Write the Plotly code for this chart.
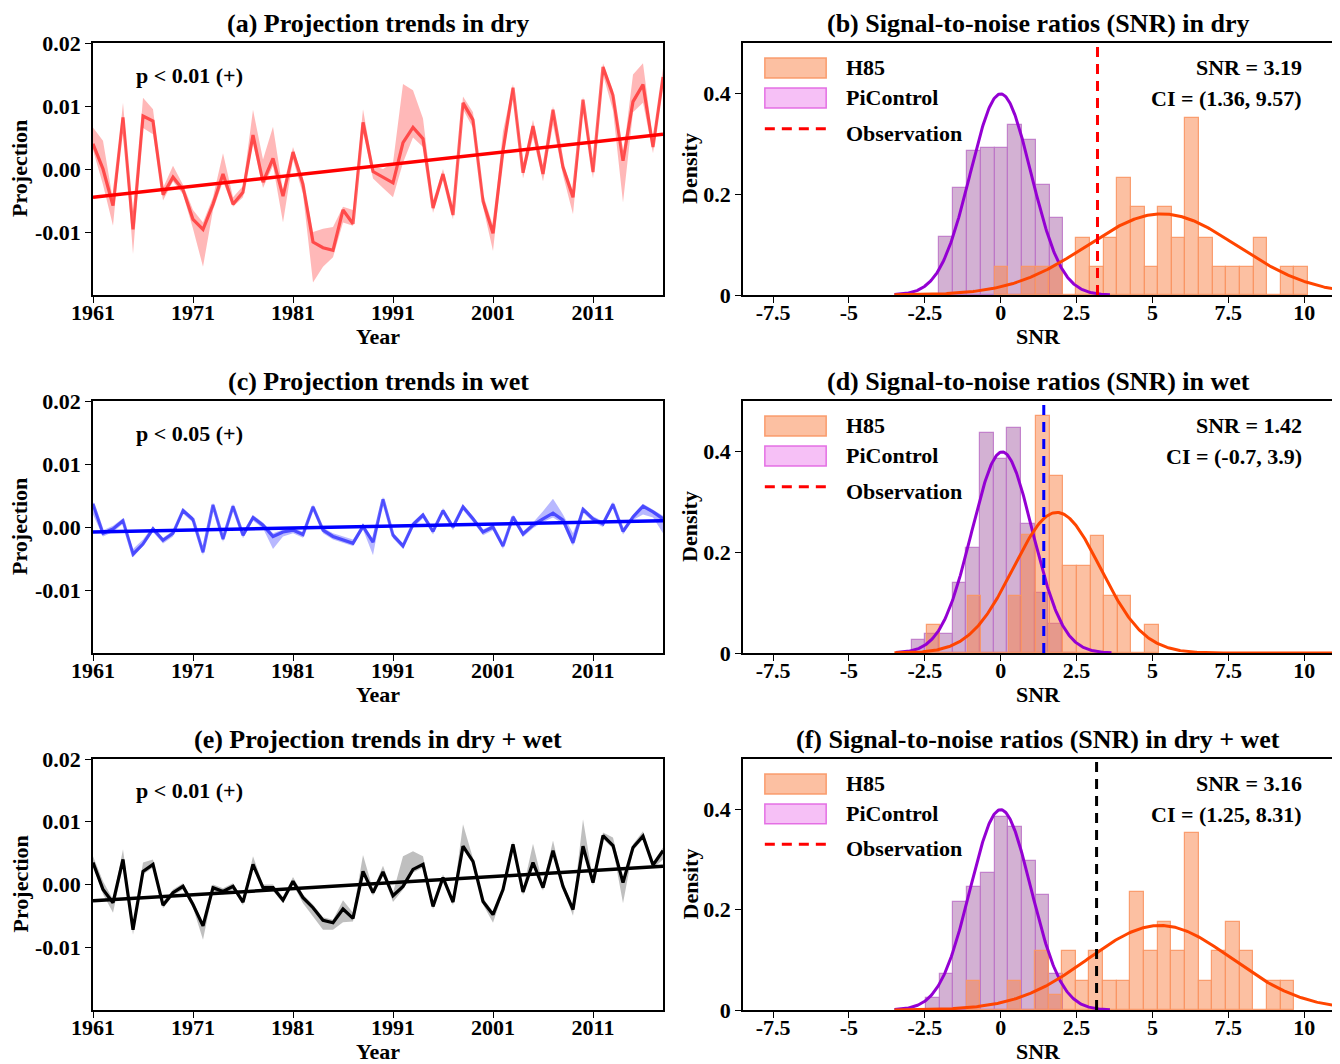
import numpy as np
import plotly.graph_objects as go

# ---------------- DATA ----------------
years = list(range(1961, 2019))

dry_val = [0.0040, 0.0000, -0.0058, 0.0082, -0.0096, 0.0084, 0.0076, -0.0041, -0.0013, -0.0033,
           -0.0080, -0.0096, -0.0056, -0.0008, -0.0056, -0.0037, 0.0054, -0.0021, 0.0017, -0.0043,
           0.0027, -0.0024, -0.0116, -0.0125, -0.0129, -0.0065, -0.0087, 0.0074, -0.0004, -0.0013,
           -0.0022, 0.0042, 0.0066, 0.0048, -0.0062, -0.0008, -0.0073, 0.0105, 0.0078, -0.0051,
           -0.0102, 0.0029, 0.0129, -0.0006, 0.0068, -0.0008, 0.0094, 0.0003, -0.0045, 0.0110,
           -0.0005, 0.0162, 0.0117, 0.0013, 0.0107, 0.0134, 0.0035, 0.0146]
dry_lo = [0.0030, -0.0025, -0.0090, 0.0075, -0.0135, 0.0065, 0.0055, -0.0050, -0.0020, -0.0040,
          -0.0095, -0.0155, -0.0065, -0.0020, -0.0060, -0.0045, 0.0040, -0.0030, 0.0005, -0.0085,
          0.0015, -0.0040, -0.0180, -0.0155, -0.0140, -0.0085, -0.0090, 0.0060, -0.0015, -0.0030,
          -0.0045, 0.0010, 0.0050, 0.0035, -0.0070, -0.0015, -0.0080, 0.0095, 0.0065, -0.0060,
          -0.0130, 0.0015, 0.0120, -0.0015, 0.0050, -0.0020, 0.0070, -0.0010, -0.0072, 0.0095,
          -0.0015, 0.0150, 0.0093, -0.0053, 0.0090, 0.0105, 0.0025, 0.0130]
dry_hi = [0.0066, 0.0045, -0.0050, 0.0105, -0.0085, 0.0113, 0.0095, -0.0030, 0.0005, -0.0025,
          -0.0065, -0.0085, -0.0045, 0.0025, -0.0045, -0.0027, 0.0094, 0.0015, 0.0067, -0.0035,
          0.0035, -0.0015, -0.0100, -0.0095, -0.0092, -0.0060, -0.0065, 0.0095, 0.0005, 0.0000,
          0.0010, 0.0135, 0.0125, 0.0080, -0.0050, 0.0000, -0.0060, 0.0115, 0.0090, -0.0040,
          -0.0090, 0.0060, 0.0135, 0.0005, 0.0078, 0.0000, 0.0100, 0.0010, -0.0035, 0.0115,
          0.0005, 0.0168, 0.0125, 0.0020, 0.0150, 0.0168, 0.0045, 0.0160]

wet_val = [0.0037, -0.0010, -0.0003, 0.0010, -0.0043, -0.0027, -0.0003, -0.0021, -0.0010, 0.0026,
           0.0012, -0.0040, 0.0035, -0.0019, 0.0033, -0.0013, 0.0015, 0.0003, -0.0015, -0.0008,
           -0.0005, -0.0012, 0.0032, -0.0005, -0.0015, -0.0020, -0.0026, 0.0001, -0.0024, 0.0044,
           -0.0013, -0.0030, 0.0004, 0.0019, -0.0007, 0.0026, 0.0000, 0.0032, 0.0013, -0.0008,
           0.0000, -0.0030, 0.0016, -0.0011, 0.0003, 0.0013, 0.0022, 0.0011, -0.0025, 0.0028,
           0.0013, 0.0005, 0.0036, -0.0007, 0.0016, 0.0033, 0.0024, 0.0013]
wet_lo = [0.0020, -0.0015, -0.0008, 0.0005, -0.0048, -0.0030, -0.0008, -0.0026, -0.0015, 0.0021,
          0.0007, -0.0045, 0.0030, -0.0024, 0.0028, -0.0018, 0.0010, -0.0002, -0.0035, -0.0015,
          -0.0010, -0.0017, 0.0027, -0.0010, -0.0020, -0.0025, -0.0030, -0.0004, -0.0045, 0.0039,
          -0.0018, -0.0035, -0.0001, 0.0014, -0.0012, 0.0021, -0.0005, 0.0027, 0.0008, -0.0013,
          -0.0005, -0.0035, 0.0011, -0.0016, -0.0002, 0.0008, 0.0015, 0.0005, -0.0030, 0.0023,
          0.0008, 0.0000, 0.0031, -0.0012, 0.0011, 0.0020, 0.0015, -0.0010]
wet_hi = [0.0040, -0.0005, 0.0002, 0.0014, -0.0035, -0.0020, 0.0001, -0.0017, -0.0006, 0.0030,
          0.0016, -0.0036, 0.0039, -0.0015, 0.0037, -0.0009, 0.0019, 0.0007, -0.0010, -0.0004,
          -0.0001, -0.0008, 0.0036, -0.0001, -0.0010, -0.0015, -0.0020, 0.0005, -0.0020, 0.0048,
          -0.0009, -0.0026, 0.0008, 0.0023, -0.0003, 0.0030, 0.0004, 0.0036, 0.0017, -0.0004,
          0.0004, -0.0026, 0.0020, -0.0007, 0.0007, 0.0025, 0.0045, 0.0020, -0.0010, 0.0032,
          0.0017, 0.0009, 0.0040, -0.0003, 0.0020, 0.0037, 0.0028, 0.0018]

all_val = [0.0035, -0.0008, -0.0029, 0.0040, -0.0072, 0.0021, 0.0032, -0.0033, -0.0013, -0.0003,
           -0.0032, -0.0066, -0.0005, -0.0011, -0.0003, -0.0028, 0.0032, -0.0005, -0.0005, -0.0025,
           0.0005, -0.0021, -0.0037, -0.0057, -0.0061, -0.0039, -0.0054, 0.0021, -0.0013, 0.0020,
           -0.0018, -0.0003, 0.0024, 0.0032, -0.0035, 0.0011, -0.0028, 0.0061, 0.0037, -0.0027,
           -0.0048, -0.0008, 0.0064, -0.0012, 0.0035, -0.0005, 0.0054, -0.0003, -0.0040, 0.0061,
           0.0003, 0.0078, 0.0062, 0.0003, 0.0059, 0.0077, 0.0031, 0.0054]
all_lo = [0.0030, -0.0015, -0.0045, 0.0030, -0.0080, 0.0016, 0.0027, -0.0038, -0.0018, -0.0008,
          -0.0037, -0.0088, -0.0010, -0.0016, -0.0008, -0.0033, 0.0027, -0.0010, -0.0010, -0.0030,
          0.0000, -0.0030, -0.0050, -0.0072, -0.0072, -0.0060, -0.0059, 0.0016, -0.0018, 0.0015,
          -0.0028, -0.0008, 0.0019, 0.0027, -0.0040, 0.0006, -0.0033, 0.0056, 0.0032, -0.0032,
          -0.0061, -0.0013, 0.0059, -0.0017, 0.0030, -0.0010, 0.0049, -0.0008, -0.0050, 0.0056,
          -0.0002, 0.0073, 0.0057, -0.0030, 0.0054, 0.0072, 0.0026, 0.0040]
all_hi = [0.0045, 0.0005, -0.0024, 0.0056, -0.0067, 0.0035, 0.0040, -0.0028, -0.0008, 0.0002,
          -0.0027, -0.0061, 0.0000, -0.0006, 0.0002, -0.0023, 0.0045, 0.0000, 0.0000, -0.0020,
          0.0012, -0.0016, -0.0032, -0.0052, -0.0056, -0.0025, -0.0045, 0.0047, -0.0008, 0.0030,
          -0.0013, 0.0045, 0.0053, 0.0045, -0.0030, 0.0016, -0.0023, 0.0096, 0.0042, -0.0022,
          -0.0043, -0.0003, 0.0069, -0.0007, 0.0065, 0.0000, 0.0070, 0.0002, -0.0035, 0.0104,
          0.0008, 0.0083, 0.0075, 0.0008, 0.0064, 0.0085, 0.0036, 0.0059]

trend_years = [1961, 2018]
dry_trend = [-0.0045, 0.0055]
wet_trend = [-0.0008, 0.0010]
all_trend = [-0.0026, 0.0029]

# Histogram densities (bin start, bin width, heights)
b_pi_start, b_pi_w = -2.02, 0.4544
b_pi = [0.115, 0.213, 0.285, 0.291, 0.291, 0.338, 0.308, 0.218, 0.152]
b_h85_start, b_h85_w = -0.198, 0.449
b_h85 = [0.055, 0.0, 0.055, 0.055, 0.055, 0.0, 0.114, 0.055, 0.114, 0.233, 0.174, 0.055,
         0.174, 0.114, 0.351, 0.114, 0.055, 0.055, 0.055, 0.114, 0.0, 0.055, 0.055]

d_pi_start, d_pi_w = -2.93, 0.45
d_pi = [0.025, 0.037, 0.037, 0.139, 0.208, 0.437, 0.385, 0.447, 0.255, 0.12, 0.057, 0.0]
d_h85_start, d_h85_w = -2.44, 0.45
d_h85 = [0.055, 0.0, 0.0, 0.114, 0.0, 0.0, 0.114, 0.235, 0.47, 0.352, 0.173, 0.173,
         0.233, 0.114, 0.114, 0.0, 0.055]

f_pi_start, f_pi_w = -2.46, 0.452
f_pi = [0.024, 0.071, 0.215, 0.246, 0.272, 0.385, 0.365, 0.297, 0.230, 0.071]
f_h85_start, f_h85_w = -1.12, 0.4496
f_h85 = [0.057, 0.0, 0.0, 0.057, 0.0, 0.117, 0.029, 0.117, 0.057, 0.117, 0.057, 0.057,
         0.235, 0.117, 0.175, 0.117, 0.353, 0.057, 0.117, 0.175, 0.117, 0.0, 0.057, 0.057]

# fitted normal curves (mean, sd)
b_pi_fit, b_h85_fit = (0.0, 1.0), (5.31, 2.48)
d_pi_fit, d_h85_fit = (0.05, 1.0), (1.85, 1.43)
f_pi_fit, f_h85_fit = (0.0, 1.0), (5.25, 2.37)

obs = {"b": 3.19, "d": 1.42, "f": 3.16}
snr_txt = {"b": ("SNR = 3.19", "CI = (1.36, 9.57)"),
           "d": ("SNR = 1.42", "CI = (-0.7, 3.9)"),
           "f": ("SNR = 3.16", "CI = (1.25, 8.31)")}
p_txt = ["p < 0.01 (+)", "p < 0.05 (+)", "p < 0.01 (+)"]
left_titles = ["(a) Projection trends in dry", "(c) Projection trends in wet",
               "(e) Projection trends in dry + wet"]
right_titles = ["(b) Signal-to-noise ratios (SNR) in dry", "(d) Signal-to-noise ratios (SNR) in wet",
                "(f) Signal-to-noise ratios (SNR) in dry + wet"]
year_ticks = [1961, 1971, 1981, 1991, 2001, 2011]
snr_ticks = [-7.5, -5, -2.5, 0, 2.5, 5, 7.5, 10]
snr_ticktext = ["-7.5", "-5", "-2.5", "0", "2.5", "5", "7.5", "10"]

# ---------------- FIGURE ----------------
W, H = 1340, 1064
OFF = 8  # page body margin
FONT = "Liberation Serif"
fig = go.Figure()

def px_x(p):
    return (p - OFF) / W

def px_y(p):
    return 1 - (p - OFF) / H

LX = [px_x(93), px_x(663)]
RX = [px_x(743), px_x(1333)]
rows_px = [(43, 295), (401, 653), (759, 1010)]
ROWY = [[px_y(b), px_y(t)] for t, b in rows_px]

ts_colors = [("rgba(255,0,0,0.6)", "rgba(255,0,0,0.28)", "#ff0000"),
             ("rgba(0,0,255,0.6)", "rgba(0,0,255,0.28)", "#0000ff"),
             ("#000000", "rgba(0,0,0,0.25)", "#000000")]
ts_data = [(dry_val, dry_lo, dry_hi, dry_trend),
           (wet_val, wet_lo, wet_hi, wet_trend),
           (all_val, all_lo, all_hi, all_trend)]

tickfont = dict(family=FONT, size=22, color="black", weight="bold")
tfont = dict(family=FONT, size=26, color="black", weight="bold")
afont = dict(family=FONT, size=22, color="black", weight="bold")
ann = []
shapes = []

for i in range(3):
    xa = "x" if i == 0 else f"x{2*i+1}"
    ya = "y" if i == 0 else f"y{2*i+1}"
    val, lo, hi, tr = ts_data[i]
    lc, bc, tc = ts_colors[i]
    fig.add_trace(go.Scatter(x=years + years[::-1], y=hi + lo[::-1], fill="toself",
                             fillcolor=bc, line=dict(width=0), mode="lines",
                             showlegend=False, hoverinfo="skip", xaxis=xa, yaxis=ya))
    fig.add_trace(go.Scatter(x=years, y=val, mode="lines", line=dict(color=lc, width=3.2),
                             showlegend=False, xaxis=xa, yaxis=ya))
    fig.add_trace(go.Scatter(x=trend_years, y=tr, mode="lines", line=dict(color=tc, width=3.5),
                             showlegend=False, xaxis=xa, yaxis=ya))

hist_sets = [("b", b_pi_start, b_pi_w, b_pi, b_h85_start, b_h85_w, b_h85, b_pi_fit, b_h85_fit, "red"),
             ("d", d_pi_start, d_pi_w, d_pi, d_h85_start, d_h85_w, d_h85, d_pi_fit, d_h85_fit, "blue"),
             ("f", f_pi_start, f_pi_w, f_pi, f_h85_start, f_h85_w, f_h85, f_pi_fit, f_h85_fit, "black")]

def npdf(x, m, s):
    return np.exp(-0.5 * ((x - m) / s) ** 2) / (s * np.sqrt(2 * np.pi))

for i, (key, ps, pw, ph, hs, hw, hh, pfit, hfit, ocol) in enumerate(hist_sets):
    xa = f"x{2*i+2}"
    ya = f"y{2*i+2}"
    pc = ps + pw * (np.arange(len(ph)) + 0.5)
    hc = hs + hw * (np.arange(len(hh)) + 0.5)
    fig.add_trace(go.Bar(x=pc, y=ph, width=pw, marker=dict(color="rgba(150,70,150,0.42)",
                         line=dict(color="rgba(190,120,200,0.9)", width=1.2)),
                         showlegend=False, xaxis=xa, yaxis=ya))
    fig.add_trace(go.Bar(x=hc, y=hh, width=hw, marker=dict(color="rgba(250,130,70,0.5)",
                         line=dict(color="rgba(250,150,100,0.9)", width=1.2)),
                         showlegend=False, xaxis=xa, yaxis=ya))
    xp = np.linspace(-3.5, 3.6, 300)
    fig.add_trace(go.Scatter(x=pfit[0] + xp, y=npdf(pfit[0] + xp, *pfit), mode="lines",
                             line=dict(color="#9400d3", width=3), showlegend=False, xaxis=xa, yaxis=ya))
    xh = np.linspace(-3.5, 11.5, 400)
    fig.add_trace(go.Scatter(x=xh, y=npdf(xh, *hfit), mode="lines",
                             line=dict(color="#ff4500", width=3), showlegend=False, xaxis=xa, yaxis=ya))
    fig.add_trace(go.Scatter(x=[obs[key], obs[key]], y=[0, 0.5], mode="lines",
                             line=dict(color=ocol, width=3, dash="10px,7px"),
                             showlegend=False, xaxis=xa, yaxis=ya))
    # legend
    dx = f"{xa} domain"
    dy = f"{ya} domain"
    shapes.append(dict(type="rect", xref=dx, yref=dy, x0=0.037, x1=0.141, y0=0.861, y1=0.940,
                       fillcolor="rgba(250,130,70,0.5)", line=dict(color="rgba(250,150,100,0.9)", width=1.5)))
    shapes.append(dict(type="rect", xref=dx, yref=dy, x0=0.037, x1=0.141, y0=0.742, y1=0.821,
                       fillcolor="rgba(238,130,238,0.5)", line=dict(color="rgba(225,100,225,0.9)", width=1.5)))
    shapes.append(dict(type="line", xref=dx, yref=dy, x0=0.037, x1=0.141, y0=0.660, y1=0.660,
                       line=dict(color="red", width=3, dash="10px,7px")))
    for txt, yy in [("H85", 0.901), ("PiControl", 0.782), ("Observation", 0.642)]:
        ann.append(dict(text=txt, xref=dx, yref=dy, x=0.171, y=yy, xanchor="left", yanchor="middle",
                        showarrow=False, font=afont))
    t1, t2 = snr_txt[key]
    ann.append(dict(text=t1, xref=dx, yref=dy, x=0.951, y=0.901, xanchor="right", yanchor="middle",
                    showarrow=False, font=afont))
    ann.append(dict(text=t2, xref=dx, yref=dy, x=0.951, y=0.779, xanchor="right", yanchor="middle",
                    showarrow=False, font=afont))

layout_axes = {}
for i in range(3):
    ln = "" if i == 0 else str(2 * i + 1)
    rn = str(2 * i + 2)
    axstyle = dict(showline=True, linecolor="black", linewidth=1.5, mirror=True, ticks="outside",
                   ticklen=6, tickwidth=1.3, tickcolor="black", showgrid=False, zeroline=False,
                   tickfont=tickfont, automargin=False)
    layout_axes["xaxis" + ln] = dict(domain=LX, range=[1961, 2018], tickvals=year_ticks,
                                     anchor="y" + ln, ticklabelstandoff=-9, **axstyle)
    layout_axes["yaxis" + ln] = dict(domain=ROWY[i], range=[-0.02, 0.02],
                                     tickvals=[-0.01, 0, 0.01, 0.02],
                                     ticktext=["-0.01", "0.00", "0.01", "0.02"],
                                     anchor="x" + ln, **axstyle)
    layout_axes["xaxis" + rn] = dict(domain=RX, range=[-8.49, 10.95], tickvals=snr_ticks,
                                     ticktext=snr_ticktext, anchor="y" + rn, ticklabelstandoff=-9,
                                     **axstyle)
    layout_axes["yaxis" + rn] = dict(domain=ROWY[i], range=[0, 0.5], tickvals=[0, 0.2, 0.4],
                                     ticktext=["0", "0.2", "0.4"], anchor="x" + rn, **axstyle)

    top, bot = rows_px[i]
    ann.append(dict(text=left_titles[i], xref="paper", yref="paper", x=px_x(378), y=px_y(top - 20),
                    xanchor="center", yanchor="middle", showarrow=False, font=tfont))
    ann.append(dict(text=right_titles[i], xref="paper", yref="paper", x=px_x(1038), y=px_y(top - 20),
                    xanchor="center", yanchor="middle", showarrow=False, font=tfont))
    ann.append(dict(text="Year", xref="paper", yref="paper", x=px_x(378), y=px_y(bot + 41),
                    xanchor="center", yanchor="middle", showarrow=False, font=afont))
    ann.append(dict(text="SNR", xref="paper", yref="paper", x=px_x(1038), y=px_y(bot + 41),
                    xanchor="center", yanchor="middle", showarrow=False, font=afont))
    ann.append(dict(text="Projection", xref="paper", yref="paper", x=px_x(20), y=px_y((top + bot) / 2),
                    xanchor="center", yanchor="middle", textangle=-90, showarrow=False, font=afont))
    ann.append(dict(text="Density", xref="paper", yref="paper", x=px_x(690), y=px_y((top + bot) / 2),
                    xanchor="center", yanchor="middle", textangle=-90, showarrow=False, font=afont))
    ann.append(dict(text=p_txt[i], xref=f"x{ln} domain" if ln else "x domain",
                    yref=f"y{ln} domain" if ln else "y domain", x=0.072, y=0.873,
                    xanchor="left", yanchor="middle", showarrow=False, font=afont))

fig.update_layout(width=W, height=H, margin=dict(l=0, r=0, t=0, b=0, pad=0, autoexpand=False),
                  autosize=False,
                  plot_bgcolor="white", paper_bgcolor="white", barmode="overlay", bargap=0,
                  annotations=ann, shapes=shapes, showlegend=False, **layout_axes)

fig.write_html("out.html", config={"responsive": False})
